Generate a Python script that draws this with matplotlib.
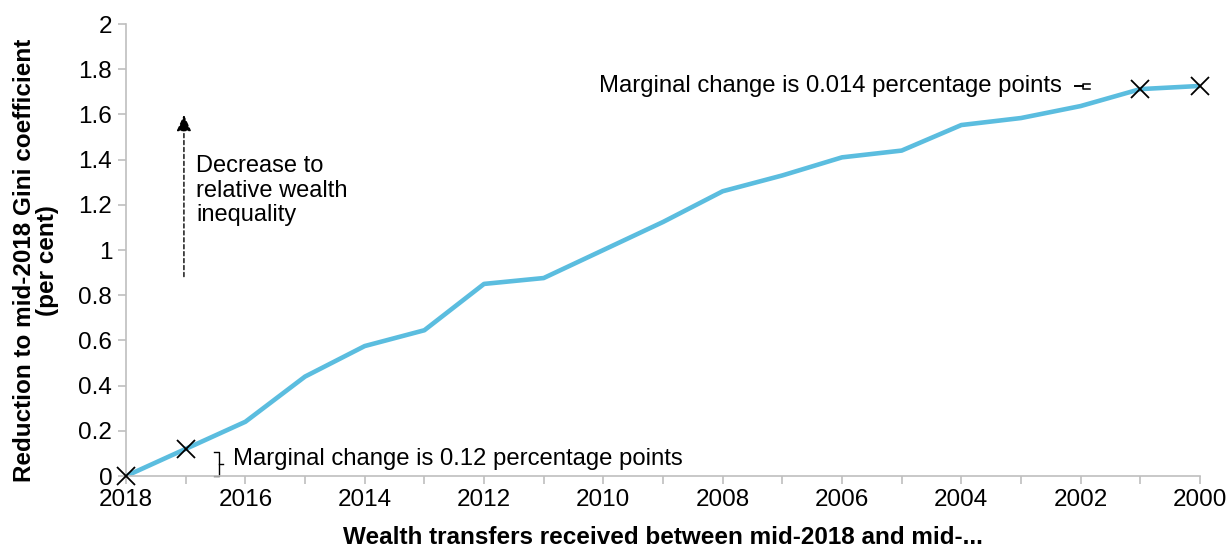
import numpy as np
import matplotlib.pyplot as plt

# Gini reduction by cut-off year of wealth transfers
years = [2018, 2017, 2016, 2015, 2014, 2013, 2012, 2011, 2010, 2009,
         2008, 2007, 2006, 2005, 2004, 2003, 2002, 2001, 2000]
reduction = [0.0, 0.12, 0.24, 0.44, 0.575, 0.645, 0.85, 0.876, 1.0, 1.124,
             1.26, 1.33, 1.41, 1.44, 1.553, 1.584, 1.637, 1.712, 1.726]
marked_years = [2018, 2017, 2001, 2000]
marked_vals = [0.0, 0.12, 1.712, 1.726]

plt.rcParams['font.family'] = ['Liberation Sans', 'DejaVu Sans']

fig = plt.figure(figsize=(12.31, 5.51), dpi=100)
ax = fig.add_axes([0.1024, 0.1361, 0.8724, 0.8203])

ax.plot(years, reduction, color='#5BBDDF', lw=3.3, solid_joinstyle='round', zorder=2)
ax.plot(marked_years, marked_vals, ls='none', marker='x', ms=13, mew=1.3,
        color='black', zorder=3, clip_on=False)

ax.set_xlim(2018, 2000)
ax.set_ylim(0, 2)
ax.set_xticks(years)
ax.set_xticklabels([str(y) if y % 2 == 0 else '' for y in years])
ax.set_yticks(np.arange(0, 2.01, 0.2))
ax.set_yticklabels(['0', '0.2', '0.4', '0.6', '0.8', '1', '1.2', '1.4', '1.6', '1.8', '2'])
ax.tick_params(axis='both', labelsize=17.5, colors='#BFBFBF', labelcolor='black',
               length=6, width=1.2)
ax.tick_params(axis='x', pad=3)
ax.tick_params(axis='y', pad=4)

for side in ['top', 'right']:
    ax.spines[side].set_visible(False)
for side in ['left', 'bottom']:
    ax.spines[side].set_color('#BFBFBF')
    ax.spines[side].set_linewidth(1.2)

ax.set_ylabel('Reduction to mid-2018 Gini coefficient\n(per cent)',
              fontsize=17.5, fontweight='bold', linespacing=1.05)
ax.yaxis.set_label_coords(-0.062, 0.476)
ax.set_xlabel('Wealth transfers received between mid-2018 and mid-...',
              fontsize=17.5, fontweight='bold', labelpad=11)

# dashed arrow and note
ax.annotate('', xy=(2017.03, 1.61), xytext=(2017.03, 0.87),
            arrowprops=dict(arrowstyle='-|>,head_length=1.0,head_width=0.45',
                            ls=(0, (3, 2)), lw=1, color='black'))
ax.text(2016.82, 1.42, 'Decrease to\nrelative wealth\ninequality',
        fontsize=17, va='top', ha='left', linespacing=1.15)

# small brace for the 2018-2017 step
bx = 2016.45
ax.plot([bx + 0.07, bx, bx, bx + 0.07], [0.108, 0.108, 0.0, 0.0],
        color='black', lw=1.0, clip_on=False)
ax.plot([bx, bx - 0.08], [0.054, 0.054], color='black', lw=1.0)
ax.text(2016.2, 0.075, 'Marginal change is 0.12 percentage points',
        fontsize=17.2, va='center', ha='left')

# small brace for the 2001-2000 step
ax.plot([2002.10, 2001.96], [1.724, 1.724], color='black', lw=1.4)
ax.plot([2001.84, 2001.96, 2001.96, 2001.84], [1.734, 1.734, 1.714, 1.714],
        color='black', lw=1.1)
ax.text(2002.31, 1.724, 'Marginal change is 0.014 percentage points',
        fontsize=17.2, va='center', ha='right')

fig.savefig('out.png', dpi=100)
